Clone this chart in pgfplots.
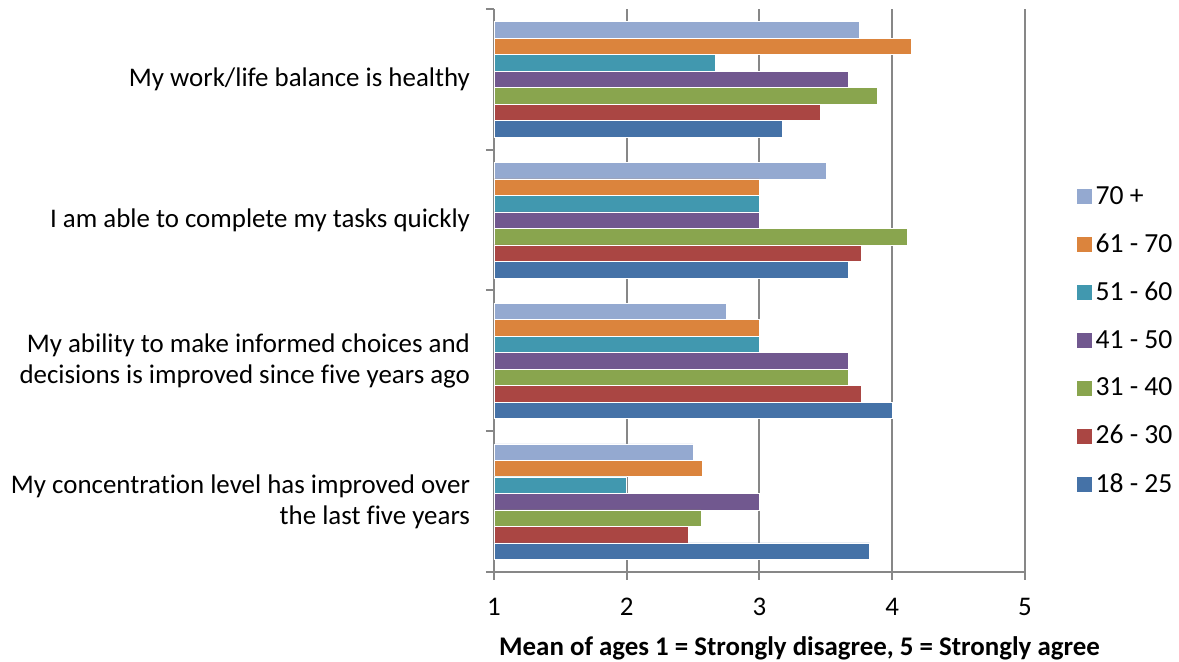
\documentclass[border=0pt]{standalone}
\usepackage{pgfplots}
\pgfplotsset{compat=1.18}
\usepackage{fontspec}
\setmainfont{Carlito}[Ligatures={NoCommon,NoDiscretionary,NoContextual}]
\definecolor{cA}{HTML}{94A9D0}
\definecolor{cB}{HTML}{DB843D}
\definecolor{cC}{HTML}{4198AF}
\definecolor{cD}{HTML}{71588F}
\definecolor{cE}{HTML}{89A54E}
\definecolor{cF}{HTML}{AA4643}
\definecolor{cG}{HTML}{4572A7}
\definecolor{axgray}{HTML}{878787}
\begin{document}
\begin{tikzpicture}
\path[use as bounding box] (0,0) rectangle (589.5pt,331pt);
\begin{axis}[
  at={(247pt,45pt)}, anchor=south west,
  scale only axis, width=265.5pt, height=281.5pt,
  xmin=1, xmax=5, ymin=-0.5, ymax=3.5,
  axis x line*=bottom, axis y line*=left,
  axis line style={axgray, line width=1pt, -},
  xtick={1,2,3,4,5},
  xmajorgrids, major grid style={axgray, line width=1pt},
  tick align=outside, major tick length=4pt,
  tick style={axgray, line width=1pt},
  ytick={-0.5,0.5,1.5,2.5,3.5}, yticklabels={,,,,,},
  extra y ticks={0,1,2,3},
  extra y tick labels={{My concentration level has improved over\\the last five years},{My ability to make informed choices and\\decisions is improved since five years ago},{I am able to complete my tasks quickly},{My work/life balance is healthy}},
  extra y tick style={major tick length=0pt, tick style={draw=none}, grid=none},
  yticklabel style={align=right, font=\fontsize{13.45pt}{15.5pt}\selectfont, xshift=-8.5pt},
  xticklabel style={font=\fontsize{13.45pt}{15.5pt}\selectfont, yshift=-5.5pt},
  /pgf/number format/assume math mode=true,
  xlabel={Mean of ages 1 = Strongly disagree, 5 = Strongly agree},
  xlabel style={font=\fontsize{13.45pt}{15.5pt}\selectfont\bfseries, xshift=20pt, yshift=-3.5pt},
  legend style={at={(1.085,0.70)}, anchor=north west, draw=none, fill=none,
    font=\fontsize{13.8pt}{15.5pt}\selectfont, row sep=9.3pt},
  legend cell align=left,
  legend image code/.code={\draw[#1, draw=none] (0pt,-3.75pt) rectangle (7.5pt,3.75pt);},
  bar width=0.117,
]
\addplot[xbar, bar shift=0.352, fill=cA, draw=white, line width=0.3pt] coordinates {(3.75,3) (3.5,2) (2.75,1) (2.5,0)};
\addlegendentry{70 +}
\addplot[xbar, bar shift=0.235, fill=cB, draw=white, line width=0.3pt] coordinates {(4.14,3) (3,2) (3,1) (2.57,0)};
\addlegendentry{61 - 70}
\addplot[xbar, bar shift=0.117, fill=cC, draw=white, line width=0.3pt] coordinates {(2.67,3) (3,2) (3,1) (2,0)};
\addlegendentry{51 - 60}
\addplot[xbar, bar shift=0, fill=cD, draw=white, line width=0.3pt] coordinates {(3.67,3) (3,2) (3.67,1) (3,0)};
\addlegendentry{41 - 50}
\addplot[xbar, bar shift=-0.117, fill=cE, draw=white, line width=0.3pt] coordinates {(3.89,3) (4.11,2) (3.67,1) (2.56,0)};
\addlegendentry{31 - 40}
\addplot[xbar, bar shift=-0.235, fill=cF, draw=white, line width=0.3pt] coordinates {(3.46,3) (3.77,2) (3.77,1) (2.46,0)};
\addlegendentry{26 - 30}
\addplot[xbar, bar shift=-0.352, fill=cG, draw=white, line width=0.3pt] coordinates {(3.17,3) (3.67,2) (4,1) (3.83,0)};
\addlegendentry{18 - 25}
\end{axis}
\end{tikzpicture}
\end{document}
